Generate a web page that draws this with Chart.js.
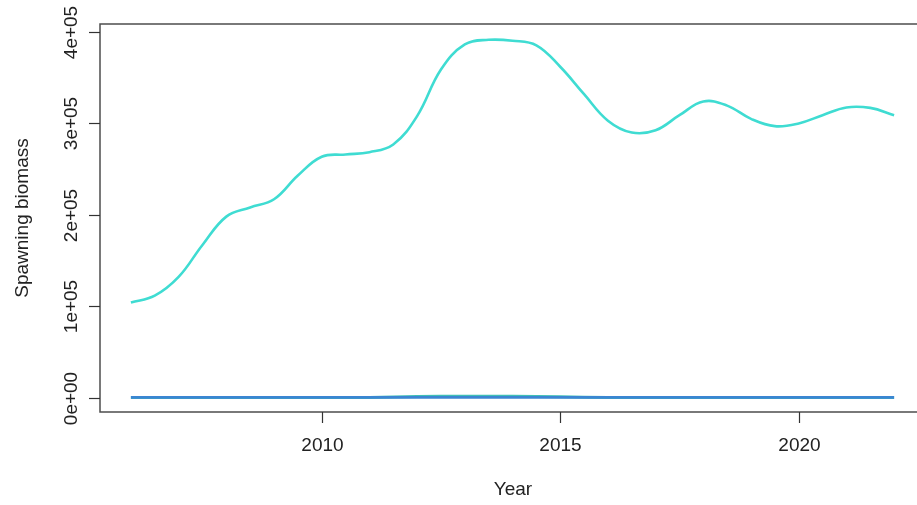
<!DOCTYPE html>
<html>
<head>
<meta charset="utf-8">
<script src="https://cdn.jsdelivr.net/npm/chart.js@4/dist/chart.umd.min.js"></script>
<style>
  html, body { margin: 0; padding: 0; background: #ffffff; }
  #wrap { width: 917px; height: 505px; }
</style>
</head>
<body>
<div id="wrap"><canvas id="c" width="917" height="505"></canvas></div>
<script>
// Spawning biomass, half-year steps
const years = [2006, 2006.5, 2007, 2007.5, 2008, 2008.5, 2009, 2009.5, 2010, 2010.5,
  2011, 2011.5, 2012, 2012.5, 2013, 2013.5, 2014, 2014.5, 2015, 2015.5,
  2016, 2016.5, 2017, 2017.5, 2018, 2018.5, 2019, 2019.5, 2020, 2020.5,
  2021, 2021.5, 2022];
const biomassTotal = [104000, 111500, 132000, 167000, 198000, 208000, 217000, 243000, 263500, 266000,
  268500, 277000, 308000, 359000, 386500, 391500, 390500, 385500, 362000, 332000,
  303000, 290000, 292500, 309000, 324000, 319500, 305000, 297000, 300000, 309000,
  317500, 317000, 309000];

// Small components near zero, yearly
const yearsSmall = [2006, 2007, 2008, 2009, 2010, 2011, 2012, 2013, 2014, 2015,
  2016, 2017, 2018, 2019, 2020, 2021, 2022];
const biomassA = [300, 300, 300, 300, 300, 300, 300, 300, 300, 300,
  300, 300, 300, 300, 300, 300, 300];
const biomassB = [0, 0, 0, 0, 0, 200, 1200, 1500, 1400, 900,
  100, 0, 0, 0, 0, 0, 0];

const yTicks = [0, 100000, 200000, 300000, 400000];
const yTickLabels = ['0e+00', '1e+05', '2e+05', '3e+05', '4e+05'];
const xTicks = [2010, 2015, 2020];
const xTickLabels = ['2010', '2015', '2020'];

const pts = (xs, ys) => xs.map((x, i) => ({ x: x, y: ys[i] }));

const FONT = '"Liberation Sans", Arial, Helvetica, sans-serif';

// Base-graphics style frame, ticks and titles
const rAxes = {
  id: 'rAxes',
  afterDraw(chart) {
    const { ctx, chartArea: a, scales: { x, y } } = chart;
    ctx.save();
    ctx.strokeStyle = '#4d4d4d';
    ctx.lineWidth = 1.5;
    ctx.strokeRect(a.left, a.top, a.right - a.left + 20, a.bottom - a.top);

    ctx.fillStyle = '#222222';
    ctx.font = '19px ' + FONT;
    ctx.textAlign = 'center';
    ctx.textBaseline = 'middle';

    // y axis
    ctx.strokeStyle = '#333333';
    ctx.lineWidth = 1.2;
    yTicks.forEach((v, i) => {
      const py = Math.round(y.getPixelForValue(v)) + 0.5;
      ctx.beginPath();
      ctx.moveTo(a.left - 11, py);
      ctx.lineTo(a.left, py);
      ctx.stroke();
      ctx.save();
      ctx.translate(72, py);
      ctx.rotate(-Math.PI / 2);
      ctx.fillText(yTickLabels[i], 0, 0);
      ctx.restore();
    });

    // x axis
    xTicks.forEach((v, i) => {
      const px = Math.round(x.getPixelForValue(v)) + 0.5;
      ctx.beginPath();
      ctx.moveTo(px, a.bottom);
      ctx.lineTo(px, a.bottom + 11);
      ctx.stroke();
      ctx.fillText(xTickLabels[i], px, 446);
    });

    // titles
    ctx.fillText('Year', 513, 490);
    ctx.save();
    ctx.translate(23, (a.top + a.bottom) / 2);
    ctx.rotate(-Math.PI / 2);
    ctx.fillText('Spawning biomass', 0, 0);
    ctx.restore();
    ctx.restore();
  }
};

new Chart(document.getElementById('c'), {
  type: 'line',
  data: {
    datasets: [
      {
        data: pts(yearsSmall, biomassA),
        borderColor: '#3b86d2',
        borderWidth: 2.8,
        pointRadius: 0,
        tension: 0.4,
        order: 0
      },
      {
        data: pts(yearsSmall, biomassB),
        borderColor: '#3fbfb6',
        borderWidth: 3,
        pointRadius: 0,
        tension: 0.4,
        order: 1
      },
      {
        data: pts(years, biomassTotal),
        borderColor: '#3fdcd2',
        borderWidth: 2.6,
        pointRadius: 0,
        tension: 0.4,
        order: 2
      }
    ]
  },
  options: {
    responsive: false,
    animation: false,
    events: [],
    layout: { padding: { left: 100, top: 24, right: 0, bottom: 93 } },
    plugins: { legend: { display: false }, tooltip: { enabled: false } },
    scales: {
      x: { type: 'linear', display: false, min: 2005.352, max: 2022.48 },
      y: { type: 'linear', display: false, min: -15800, max: 408800 }
    }
  },
  plugins: [rAxes]
});
</script>
</body>
</html>
